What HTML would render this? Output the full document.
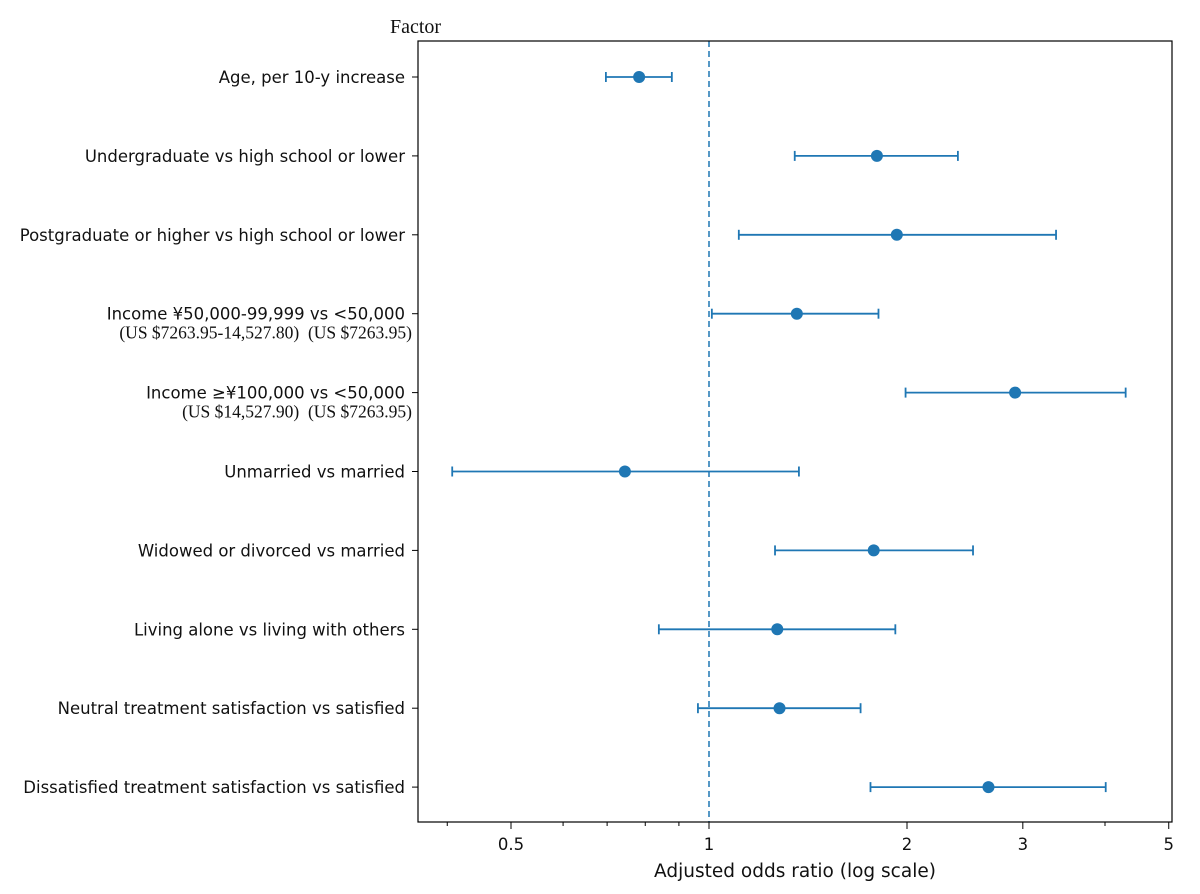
<!DOCTYPE html>
<html><head><meta charset="utf-8"><style>
body{margin:0;background:#fff;}
svg{display:block;font-family:"DejaVu Sans","Liberation Sans","Noto Sans CJK SC",sans-serif;}
.lab{font-size:16.5px;fill:#111;}
.sub{font-size:17.5px;fill:#111;font-family:"Liberation Serif",serif;white-space:pre;}
.tick{font-size:16.5px;fill:#111;}
</style></head><body>
<svg id="chart" width="1200" height="894" viewBox="0 0 1200 894">
<rect x="0" y="0" width="1200" height="894" fill="#fff"/>
<text x="390" y="33" font-family="Liberation Serif,serif" font-size="20" fill="#111">Factor</text>
<line x1="709" y1="41" x2="709" y2="822" stroke="#1f77b4" stroke-width="1.5" stroke-dasharray="6,4"/>
<g id="marks"></g>
<rect x="418" y="41" width="754" height="781" fill="none" stroke="#000" stroke-width="1.2"/>
<g id="axis"></g>
<text x="795" y="877" text-anchor="middle" font-size="18.5" fill="#111">Adjusted odds ratio (log scale)</text>
</svg>
<script>
const categories=["Age, per 10-y increase","Undergraduate vs high school or lower","Postgraduate or higher vs high school or lower","Income ¥50,000-99,999 vs <50,000","Income ≥¥100,000 vs <50,000","Unmarried vs married","Widowed or divorced vs married","Living alone vs living with others","Neutral treatment satisfaction vs satisfied","Dissatisfied treatment satisfaction vs satisfied"];
const subLabels=["","","","(US $7263.95-14,527.80)  (US $7263.95)","(US $14,527.90)  (US $7263.95)","","","","",""];
const oddsRatio=[0.783,1.80,1.93,1.36,2.92,0.745,1.78,1.27,1.28,2.66];
const ciLow=[0.697,1.35,1.11,1.01,1.99,0.407,1.26,0.839,0.962,1.76];
const ciHigh=[0.878,2.39,3.37,1.81,4.30,1.37,2.52,1.92,1.70,4.01];
const majorTicks=[0.5,1,2,3,5];
const majorTickLabels=["0.5","1","2","3","5"];
const minorTicks=[0.4,0.6,0.7,0.8,0.9,4];

const NS="http://www.w3.org/2000/svg";
function xs(v){return 709+198*Math.log2(v);}
function ys(i){return 77+i*78.9;}
function mk(tag,attrs,parent){const e=document.createElementNS(NS,tag);for(const k in attrs)e.setAttribute(k,attrs[k]);parent.appendChild(e);return e;}
const marks=document.getElementById('marks');
const svg=document.getElementById('chart');
const axis=document.getElementById('axis');
const C="#1f77b4";
categories.forEach((c,i)=>{
  const y=ys(i);
  const g=mk('g',{},marks);
  
  
  const l=mk('line',{x1:xs(ciLow[i]),x2:xs(ciHigh[i]),y1:y,y2:y,stroke:C,'stroke-width':1.8},g);
  
  
  [ciLow[i],ciHigh[i]].forEach(v=>{
    const cap=mk('line',{x1:xs(v),x2:xs(v),y1:y-5,y2:y+5,stroke:C,'stroke-width':1.8},g);
    
    
  });
  const p=mk('circle',{cx:xs(oddsRatio[i]),cy:y,r:6,fill:C},g);
  
  
  const t=mk('text',{x:405,y:y+6,'text-anchor':'end',class:'lab'},svg);
  t.textContent=c;
  
  
  const tk=mk('line',{x1:412,x2:418,y1:y,y2:y,stroke:'#000'},axis);
  
  
  if(subLabels[i]){
    const s=mk('text',{x:412,y:y+25,'text-anchor':'end',class:'sub'},svg);
    s.textContent=subLabels[i];
    
    
  }
});
majorTicks.forEach((v,i)=>{
  const tk=mk('line',{x1:xs(v),x2:xs(v),y1:822,y2:829,stroke:'#000'},axis);
  
  
  const t=mk('text',{x:xs(v),y:850,'text-anchor':'middle',class:'tick'},axis);
  t.textContent=majorTickLabels[i];
  
  
});
minorTicks.forEach(v=>{
  const tk=mk('line',{x1:xs(v),x2:xs(v),y1:822,y2:826,stroke:'#000'},axis);
  
  
});
</script>
</body></html>
